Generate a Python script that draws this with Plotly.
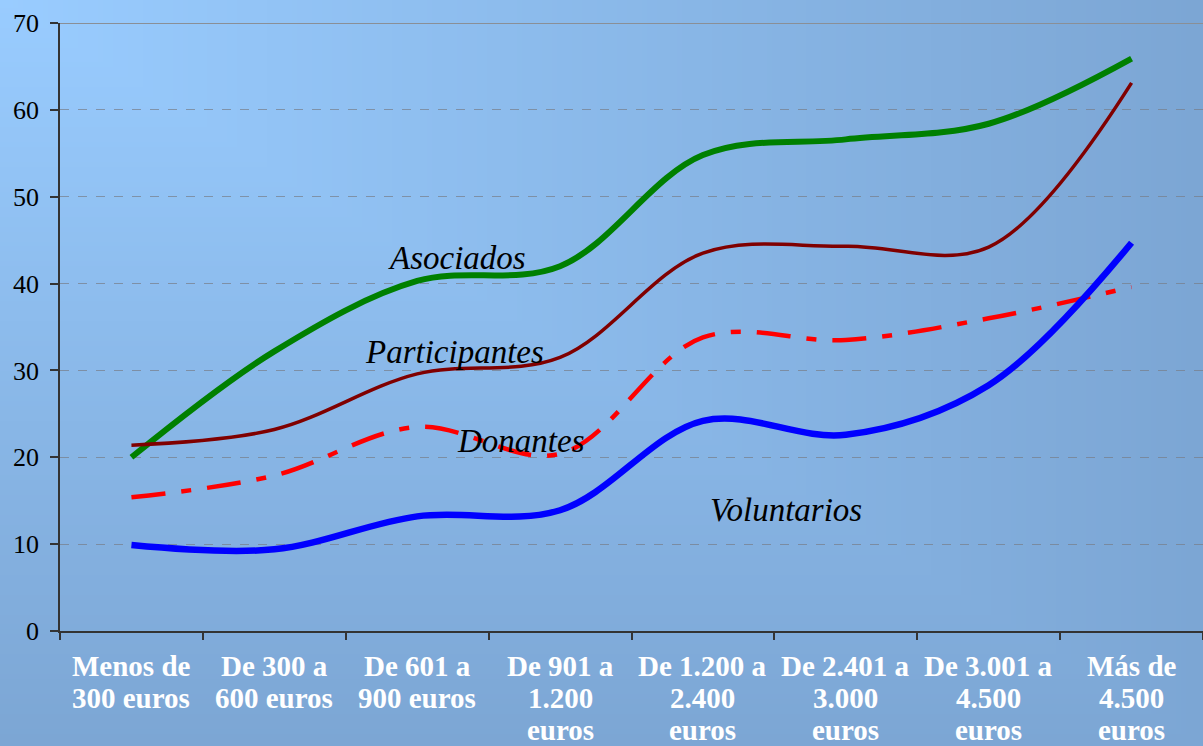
import zlib, struct, base64
import plotly.graph_objects as go

# ---------------- data ----------------
categories = [
    "Menos de<br>300 euros",
    "De 300 a<br>600 euros",
    "De 601 a<br>900 euros",
    "De 901 a<br>1.200<br>euros",
    "De 1.200 a<br>2.400<br>euros",
    "De 2.401 a<br>3.000<br>euros",
    "De 3.001 a<br>4.500<br>euros",
    "Más de<br>4.500<br>euros",
]
asociados = [20.0, 32.2, 40.3, 42.0, 54.8, 56.6, 58.4, 65.9]
participantes = [21.4, 23.2, 29.6, 31.5, 43.5, 44.3, 44.2, 63.1]
donantes = [15.4, 17.9, 23.5, 20.4, 33.8, 33.5, 36.0, 39.6]
voluntarios = [9.9, 9.4, 13.2, 13.9, 24.2, 22.6, 28.3, 44.7]
y_ticks = [0, 10, 20, 30, 40, 50, 60, 70]

W, H = 1203, 746
ML, MR, MT, MB = 60, 0, 23, 115
PW, PH = W - ML - MR, H - MT - MB
SERIF = '"Liberation Serif", "Times New Roman", Times, serif'

# ---------------- gradient background (corner gradient) ----------------
def make_png(w, h, light, dark):
    rows = []
    for j in range(h):
        row = bytearray([0])
        v = j / (h - 1)
        for i in range(w):
            u = i / (w - 1)
            s = max(u, v)
            for c in range(3):
                row.append(int(round(light[c] + (dark[c] - light[c]) * s)))
        rows.append(bytes(row))
    raw = b"".join(rows)

    def chunk(t, d):
        return struct.pack(">I", len(d)) + t + d + struct.pack(">I", zlib.crc32(t + d) & 0xFFFFFFFF)

    return (b"\x89PNG\r\n\x1a\n"
            + chunk(b"IHDR", struct.pack(">IIBBBBB", w, h, 8, 2, 0, 0, 0))
            + chunk(b"IDAT", zlib.compress(raw))
            + chunk(b"IEND", b""))

png = make_png(241, 150, (153, 204, 255), (124, 166, 212))
bg_src = "data:image/png;base64," + base64.b64encode(png).decode()

fig = go.Figure()

series = [
    ("Asociados", asociados, dict(color="#008000", width=6)),
    ("Participantes", participantes, dict(color="#800000", width=3.5)),
    ("Donantes", donantes, dict(color="#FF0000", width=4.5, dash="34px,16px,10px,16px")),
    ("Voluntarios", voluntarios, dict(color="#0000FF", width=6.5)),
]
for name, vals, ln in series:
    fig.add_trace(go.Scatter(
        x=list(range(len(categories))), y=vals, mode="lines", name=name,
        line=dict(shape="spline", smoothing=1.0, **ln),
        showlegend=False, hoverinfo="y+name",
    ))

# series labels inside the plot
label_font = dict(family=SERIF, size=33, color="black", style="italic")
labels = [
    ("Asociados", 2.28, 42.9),
    ("Participantes", 2.26, 32.1),
    ("Donantes", 2.73, 21.9),
    ("Voluntarios", 4.58, 13.9),
]
for txt, xv, yv in labels:
    fig.add_annotation(x=xv, y=yv, xref="x", yref="y", text=txt, showarrow=False,
                       font=label_font, xanchor="center", yanchor="middle")

# category labels (one annotation per line for tight line spacing)
cat_font = dict(family=SERIF, size=29, color="white", weight="bold")
line_centers_px = [666, 698, 730]  # pixel centre of each text line
for i, cat in enumerate(categories):
    for k, part in enumerate(cat.split("<br>")):
        fig.add_annotation(x=i, xref="x", yref="paper",
                           y=(H - MB - line_centers_px[k]) / PH,
                           text=part, showarrow=False, font=cat_font,
                           xanchor="center", yanchor="middle")

fig.add_shape(type="line", xref="paper", yref="y", x0=0, x1=1, y0=y_ticks[-1], y1=y_ticks[-1],
              line=dict(color="#8a8f96", width=2), layer="above")

fig.add_layout_image(dict(
    source=bg_src, xref="paper", yref="paper",
    x=-ML / PW, y=1 + MT / PH, sizex=W / PW, sizey=H / PH,
    xanchor="left", yanchor="top", sizing="stretch", layer="below",
))

fig.update_layout(
    width=W, height=H,
    margin=dict(l=ML, r=MR, t=MT, b=MB, pad=0, autoexpand=False),
    paper_bgcolor="rgb(124,166,212)",
    plot_bgcolor="rgba(0,0,0,0)",
    xaxis=dict(
        range=[-0.5, len(categories) - 0.5], automargin=False,
        tickvals=[i - 0.5 for i in range(len(categories) + 1)], showticklabels=False,
        ticks="outside", ticklen=7, tickwidth=1.5, tickcolor="#333333",
        showline=True, linecolor="#333333", linewidth=2, showgrid=False, zeroline=False,
        fixedrange=True,
    ),
    yaxis=dict(
        range=[0, 70], tickvals=y_ticks, ticks="outside", ticklen=8, tickwidth=1.5,
        automargin=False,
        tickcolor="#333333", showline=True, linecolor="#333333", linewidth=1.5,
        showgrid=True, gridcolor="rgba(120,125,135,0.7)", griddash="dash", gridwidth=1,
        zeroline=False,
        tickfont=dict(family=SERIF, size=26, color="black"),
        ticklabelstandoff=6,
        fixedrange=True,
    ),
)

fig.write_html(
    "out.html",
    config={"displayModeBar": False},
    post_script="document.body.style.margin='0';document.documentElement.style.overflow='hidden';",
)
